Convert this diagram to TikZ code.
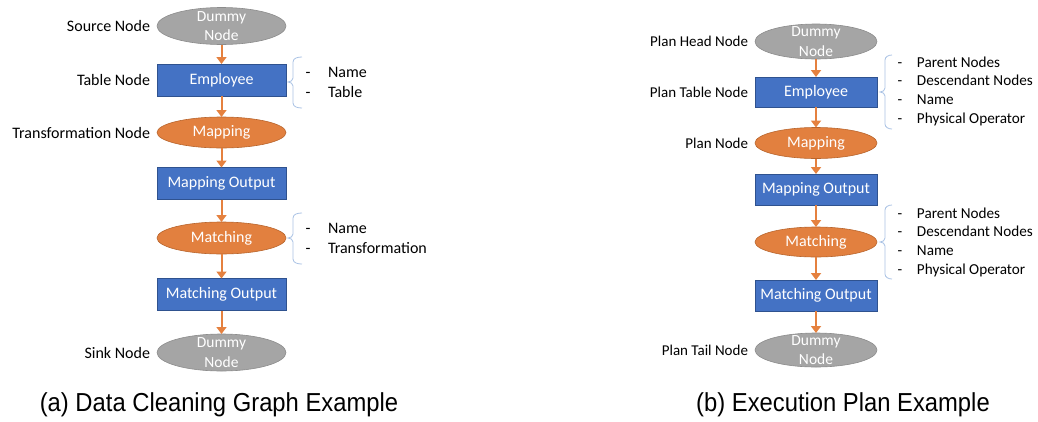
\documentclass[tikz,border=0pt]{standalone}
\usepackage{fontspec}
\setmainfont{Carlito}
\newfontfamily\capfont{Liberation Sans}
\usetikzlibrary{shapes.geometric,positioning,arrows.meta}

\definecolor{tblue}{HTML}{4472C4}
\definecolor{tblueline}{HTML}{2F528F}
\definecolor{torange}{HTML}{E2803F}
\definecolor{torangeline}{HTML}{B8652D}
\definecolor{tgray}{HTML}{A5A5A5}
\definecolor{tgrayline}{HTML}{8C8C8C}
\definecolor{tarrow}{HTML}{E5813F}
\definecolor{tbrace}{HTML}{A9C2E4}

\begin{document}
\begin{tikzpicture}[x=1pt,y=-1pt,
  every node/.style={inner sep=0pt, outer sep=0pt},
  box/.style={rectangle, fill=tblue, draw=tblueline, line width=0.6pt,
    text=white, font=\fontsize{16}{19}\selectfont},
  oval/.style={ellipse, fill=torange, draw=torangeline, line width=0.6pt,
    text=white, font=\fontsize{16}{19}\selectfont},
  dummy/.style={ellipse, fill=tgray, draw=tgrayline, line width=0.6pt},
  dummytext/.style={text=white, align=center, font=\fontsize{15.5}{19.5}\selectfont},
  lab/.style={font=\fontsize{16}{19}\selectfont, text=black},
  rlab/.style={font=\fontsize{15}{18}\selectfont, text=black},
  items/.style={align=left, anchor=west, font=\fontsize{16}{20}\selectfont},
  ritems/.style={align=left, anchor=west, font=\fontsize{15.2}{18.7}\selectfont},
  caption/.style={font=\capfont\fontsize{26}{28}\selectfont, xscale=0.915, transform shape},
  flow/.style={draw=tarrow, line width=2pt,
    -{Triangle[length=7pt,width=10pt]}},
  bracket/.style={draw=tbrace, line width=0.8pt}]

\useasboundingbox (0,0) rectangle (1038,421);

% ---------- (a) data cleaning graph ----------
\node[dummy, minimum width=129, minimum height=37] (a1) at (221.5,26) {};
\node[dummytext] (a1t) at (a1) {Dummy\\Node};
\node[box, minimum width=129, minimum height=32] (a2) at (221.5,80) {Employee};
\node[oval, minimum width=129, minimum height=31] (a3) at (221.5,132.5) {Mapping};
\node[box, minimum width=129, minimum height=32] (a4) at (221.5,183.5) {Mapping Output};
\node[oval, minimum width=129, minimum height=32] (a5) at (221.5,238) {Matching};
\node[box, minimum width=129, minimum height=32] (a6) at (221.5,294.5) {Matching Output};
\node[dummy, minimum width=129, minimum height=37] (a7) at (221.5,352.5) {};
\node[dummytext] (a7t) at (a7) {Dummy\\Node};

\node[lab, left=7pt of a1] (la1) {Source Node};
\node[lab, left=7pt of a2] (la2) {Table Node};
\node[lab, left=7pt of a3] (la3) {Transformation Node};
\node[lab, left=7pt of a7] (la7) {Sink Node};

\draw[flow] (a1) -- (a2);
\draw[flow] (a2) -- (a3);
\draw[flow] (a3) -- (a4);
\draw[flow] (a4) -- (a5);
\draw[flow] (a5) -- (a6);
\draw[flow] (a6) -- (a7);

% attribute brackets
\draw[bracket] (302,57) to[out=180,in=90] (293,62) -- (293,78)
  to[out=-90,in=0] (288,82) to[out=0,in=90] (293,86) -- (293,103)
  to[out=-90,in=180] (302,108);
\node[items] (ia2) at (305.5,82) {\makebox[22.5pt][l]{-}Name\\\makebox[22.5pt][l]{-}Table};

\draw[bracket] (302,213) to[out=180,in=90] (293,218) -- (293,234)
  to[out=-90,in=0] (288,238) to[out=0,in=90] (293,242) -- (293,259)
  to[out=-90,in=180] (302,264);
\node[items] (ia5) at (305.5,238) {\makebox[22.5pt][l]{-}Name\\\makebox[22.5pt][l]{-}Transformation};

\node[caption] (capa) at (219,405) {(a) Data Cleaning Graph Example};

% ---------- (b) execution plan ----------
\node[dummy, minimum width=122, minimum height=35] (b1) at (816,41.5) {};
\node[dummytext] (b1t) at (b1) {Dummy\\Node};
\node[box, minimum width=122, minimum height=30] (b2) at (816,92) {Employee};
\node[oval, minimum width=122, minimum height=31] (b3) at (816,143) {Mapping};
\node[box, minimum width=122, minimum height=31] (b4) at (816,189.5) {Mapping Output};
\node[oval, minimum width=122, minimum height=30] (b5) at (816,242) {Matching};
\node[box, minimum width=122, minimum height=31] (b6) at (816,295.5) {Matching Output};
\node[dummy, minimum width=122, minimum height=34] (b7) at (816,350) {};
\node[dummytext] (b7t) at (b7) {Dummy\\Node};

\node[rlab, left=7pt of b1] (lb1) {Plan Head Node};
\node[rlab, left=7pt of b2] (lb2) {Plan Table Node};
\node[rlab, left=7pt of b3] (lb3) {Plan Node};
\node[rlab, left=7pt of b7] (lb7) {Plan Tail Node};

\draw[flow] (b1) -- (b2);
\draw[flow] (b2) -- (b3);
\draw[flow] (b3) -- (b4);
\draw[flow] (b4) -- (b5);
\draw[flow] (b5) -- (b6);
\draw[flow] (b6) -- (b7);

\draw[bracket] (892,55) to[out=180,in=90] (885,60) -- (885,88)
  to[out=-90,in=0] (880,92) to[out=0,in=90] (885,96) -- (885,124)
  to[out=-90,in=180] (892,129);
\node[ritems] (ib2) at (897.5,91) {\makebox[19.5pt][l]{-}Parent Nodes\\\makebox[19.5pt][l]{-}Descendant Nodes\\\makebox[19.5pt][l]{-}Name\\\makebox[19.5pt][l]{-}Physical Operator};

\draw[bracket] (892,205) to[out=180,in=90] (885,210) -- (885,238)
  to[out=-90,in=0] (880,242) to[out=0,in=90] (885,246) -- (885,274)
  to[out=-90,in=180] (892,279);
\node[ritems] (ib5) at (897.5,242) {\makebox[19.5pt][l]{-}Parent Nodes\\\makebox[19.5pt][l]{-}Descendant Nodes\\\makebox[19.5pt][l]{-}Name\\\makebox[19.5pt][l]{-}Physical Operator};

\node[caption] (capb) at (843,405) {(b) Execution Plan Example};

\end{tikzpicture}
\end{document}
